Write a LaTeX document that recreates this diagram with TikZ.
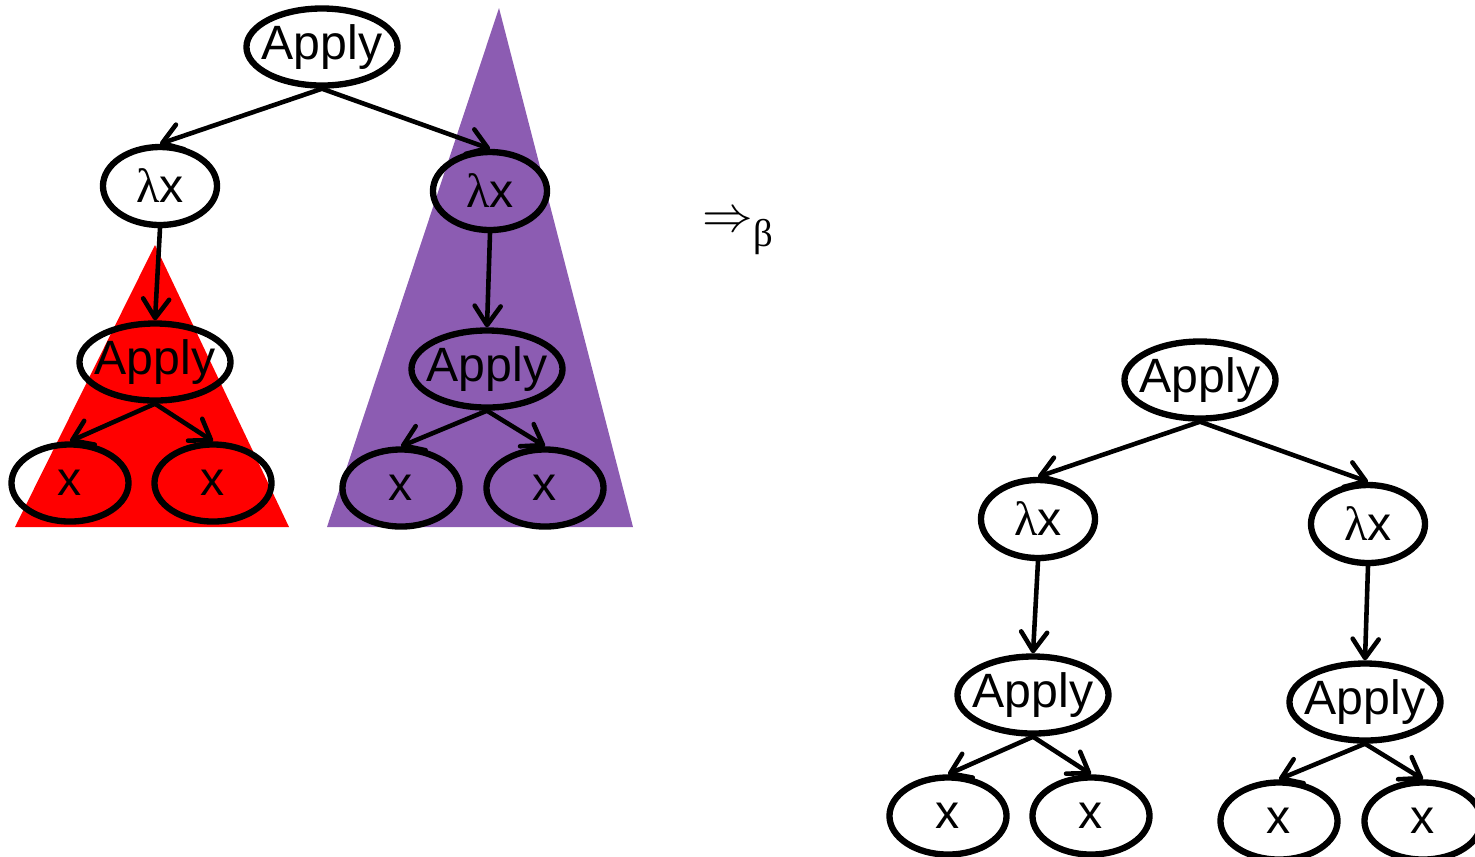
\documentclass[tikz,border=0pt]{standalone}
\usepackage{fontspec}
\setmainfont{Liberation Sans}
\newfontfamily\serif{Liberation Serif}
\usetikzlibrary{shapes.geometric,arrows.meta}
\definecolor{lilac}{RGB}{140,92,178}
\tikzset{
  term/.style={ellipse,draw,line width=1.8pt,inner xsep=-3mm,inner ysep=-2mm,font=\fontsize{13.7}{14}\selectfont},
  app/.style={term,minimum width=1.51cm,minimum height=0.77cm},
  lam/.style={term,minimum width=1.14cm,minimum height=0.78cm},
  var/.style={term,minimum width=1.17cm,minimum height=0.77cm},
  edge/.style={line width=1.3pt,line cap=round,-{Straight Barb[length=1.9mm,width=2.6mm,round]}}
}
\begin{document}
\begin{tikzpicture}[x=0.01cm,y=-0.01cm]
    \useasboundingbox (0,0) rectangle (1475,856);
    % the two subterms
    \fill[red] (15,527) -- (155,245) -- (289,527) -- cycle;
    \fill[lilac] (327,527) -- (499,8) -- (633,527) -- cycle;
    \node (beta) at (738,234) {\fontsize{13.4}{14}\selectfont$\Rightarrow$\raisebox{-0.6ex}{\serif\fontsize{11}{11}\selectfont β}};
    % before (l) and after (r) the step
    \foreach \t/\dx/\dy in {l/0/0, r/878/333} {
        \begin{scope}[shift={(\dx,\dy)}]
            \node[app] (\t-app) at (322,47) {Apply};
            \node[lam] (\t-lama) at (160,186) {{\serif λ}x};
            \node[lam] (\t-lamb) at (490,191) {{\serif λ}x};
            \node[app] (\t-appa) at (155,362) {Apply};
            \node[app] (\t-appb) at (487,369) {Apply};
            \node[var] (\t-xa) at (70,483) {x};
            \node[var] (\t-xb) at (213,483) {x};
            \node[var] (\t-xc) at (401,488) {x};
            \node[var] (\t-xd) at (545,488) {x};
            \draw[edge] (\t-app.south) -- (\t-lama.north);
            \draw[edge] (\t-app.south) -- (\t-lamb.north);
            \draw[edge] (\t-lama.south) -- (\t-appa.north);
            \draw[edge] (\t-lamb.south) -- (\t-appb.north);
            \draw[edge] (\t-appa.south) -- (\t-xa.north);
            \draw[edge] (\t-appa.south) -- (\t-xb.north);
            \draw[edge] (\t-appb.south) -- (\t-xc.north);
            \draw[edge] (\t-appb.south) -- (\t-xd.north);
        \end{scope}
    }
\end{tikzpicture}
\end{document}
